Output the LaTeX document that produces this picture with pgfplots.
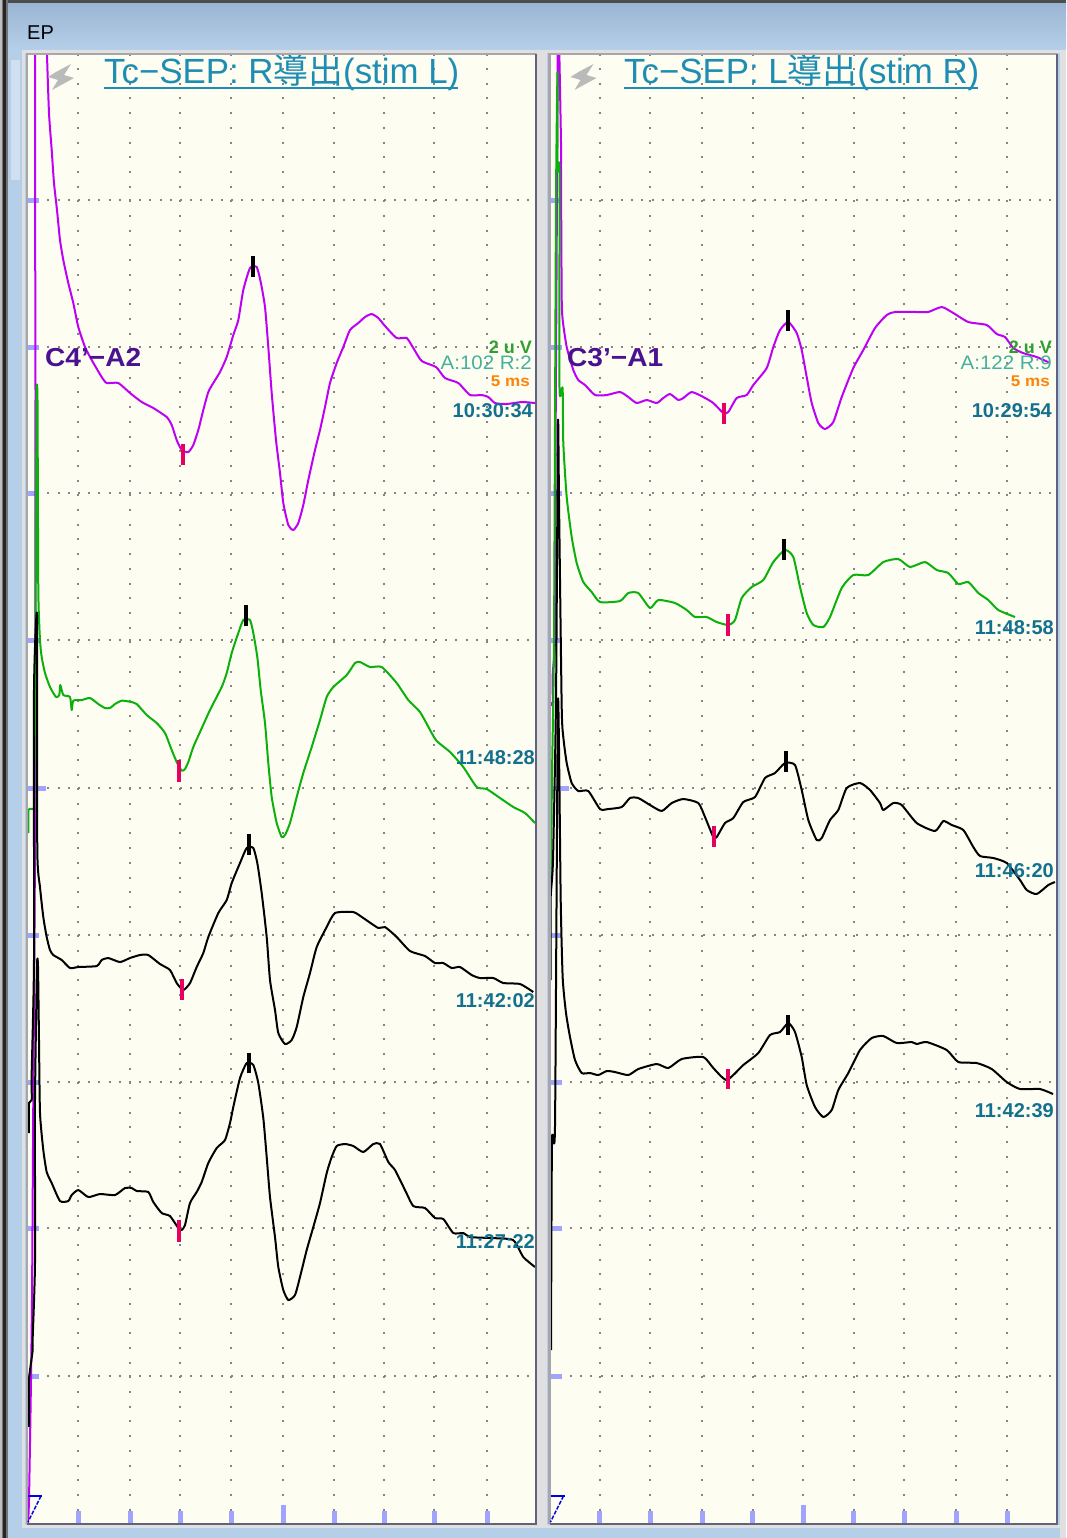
\documentclass[border=0pt]{standalone}
\usepackage{fontspec}
\setmainfont{Liberation Sans}
\newfontfamily\cjk{Noto Sans CJK JP}
\usepackage{pgfplots}
\pgfplotsset{compat=1.18}

\definecolor{paper}{HTML}{FDFDF1}
\definecolor{winblue}{HTML}{B6CFE9}
\definecolor{winblue2}{HTML}{9AB5D3}
\definecolor{frame}{HTML}{A6A6AC}
\definecolor{framedark}{HTML}{5F647C}
\definecolor{tickblue}{HTML}{A0A4FC}
\definecolor{griddot}{HTML}{858585}
\definecolor{trpurple}{HTML}{BE00F5}
\definecolor{trgreen}{HTML}{0CB00C}
\definecolor{markpink}{HTML}{E6005F}
\definecolor{titleblue}{HTML}{1E8DB4}
\definecolor{chanpurple}{HTML}{4A1290}
\definecolor{timeteal}{HTML}{14708F}
\definecolor{ampteal}{HTML}{45B09C}
\definecolor{gaingreen}{HTML}{2FA030}
\definecolor{msorange}{HTML}{FF8308}

% all traces are in reference pixels, 1 px = 1 pt
\pgfplotsset{
  panel/.style={
    at={(#1,55)}, anchor=north west,
    scale only axis, height=1468pt,
    ymin=55, ymax=1523, y dir=reverse,
    axis background/.style={fill=paper},
    axis line style={draw=none},
    xtick pos=lower, ytick pos=left,
    tick align=inside,
    major tick length=12pt,
    x tick style={line width=5pt, tickblue},
    y tick style={line width=5pt, tickblue},
    xticklabel=\empty, yticklabel=\empty,
    extra x tick labels={},
    extra y tick labels={},
    extra x tick style={major tick length=18pt},
    extra y tick style={major tick length=19pt},
    xmajorgrids, ymajorgrids,
    x grid style={griddot, line width=2pt, dash pattern=on 2pt off 12.7pt, dash phase=1.7pt},
    y grid style={griddot, line width=2pt, dash pattern=on 2pt off 8.2pt},
    ytick={200,347,493,640,935,1082,1228,1376},
    extra y ticks={788},
    unbounded coords=jump,
  },
  trace/.style={line width=2pt, line join=round, smooth, tension=0.35},
  pinkmark/.style={markpink, line width=4pt},
  blackmark/.style={black, line width=4pt},
}
\tikzset{
  stamp/.style={anchor=east, inner sep=0pt, text=timeteal, font=\fontsize{20}{20}\selectfont\bfseries},
  amp/.style={anchor=east, inner sep=0pt, xscale=1.05, text=ampteal, font=\fontsize{19.5}{19.5}\selectfont},
  gain/.style={anchor=east, inner sep=0pt, text=gaingreen, font=\fontsize{18}{18}\selectfont\bfseries},
  ms/.style={anchor=east, inner sep=0pt, xscale=1.1, text=msorange, font=\fontsize{15.5}{15.5}\selectfont\bfseries},
  chan/.style={anchor=west, inner sep=0pt, text=chanpurple, font=\fontsize{26}{26}\selectfont\bfseries},
  ttl/.style={anchor=west, inner sep=0pt, text=titleblue, font=\fontsize{35}{35}\selectfont},
}

\begin{document}
\begin{tikzpicture}[x=1pt,y=-1pt]
\useasboundingbox (0,0) rectangle (1066,1538);
% window chrome
\fill[winblue] (0,0) rectangle (1066,1538);
\shade[top color=winblue2, bottom color=winblue] (0,3) rectangle (1066,50);
\fill[black!70] (0,0) rectangle (1066,3);
\fill[black!55] (0,0) rectangle (8,1538);
\fill[black!25] (0,0) rectangle (2,1538);
\fill[black!85] (3,0) rectangle (6,1538);
\fill[white!35!winblue] (11,60) rectangle (20,180);
\fill[black!12] (1060,50) rectangle (1066,1538);
\fill[black!12] (22,50) rectangle (1060,53);
\fill[black!12] (22,1525) rectangle (1060,1528);
\fill[black!12] (22,50) rectangle (25,1528);
\fill[black!12] (537,50) rectangle (547,1528);
\node[anchor=west, inner sep=0pt, font=\fontsize{20}{20}\selectfont] at (27,33) {EP};

% left panel
\begin{axis}[panel=27, width=509pt, xmin=27, xmax=536,
  xtick={78,130,180,231,334,384,434,487}, extra x ticks={283}]
\addplot[trace, trpurple] coordinates {
 (28,1523)(29,1500)(30.7,1400)(32,1300)(33.3,1100)(34,1000)(35,830)(35.5,400)(35.5,40)(47,40)(47,55)
 (49,113)(51.7,150)(54,183)(57,210)(60,240)(63.3,260)(68.3,283)(73.3,303)(78.3,327)(85,347)(91.7,360)
 (101.7,377)(106.7,383)(118.3,383)(130,393)(141.7,402)(153.3,408)(166.7,417)(171.7,425)(176.7,440)
 (181.7,450)(188.3,452)(193.3,445)(198.3,430)(203.3,410)(208.3,392)(213.3,383)(220,372)(226.7,357)
 (233.3,335)(238.3,320)(243.3,290)(250,268)(256.7,267)(260.7,282)(265,307)(268.3,347)(271.7,393)
 (276,440)(280,473)(283.3,503)(288.3,525)(293.3,530)(298.3,523)(303.3,505)(308.3,480)(315,450)
 (320,430)(325,407)(330,383)(336.7,363)(343.3,347)(350,330)(358.3,323)(365,317)(371.7,314)(378.3,318)
 (385,326)(396.7,338)(406.7,338)(413.3,348)(421.7,361)(436,367)(445,378)(458.3,383)(470,395)(481.7,395)
 (488.3,397)(495,403)(506.7,404)(521.7,402)(535,403)};
\addplot[trace, trgreen] coordinates {
 (28.5,833)(28.5,810)(34.3,808)(34.3,787)(35.5,640)(36.5,400)(37.5,400)(38.3,590)(40,640)(41.7,657)
 (45,673)(50,687)(56,697)(59.3,695)(60.3,685)(63.3,695)(70,697)(71.7,710)(73.3,700.7)(81.7,700)(90,698)
 (98.3,704)(105,708)(110,708)(115,704)(121.7,700.7)(130,701.7)(136.7,704)(146.7,715)(156.7,723)(165,733)
 (171.7,750)(176.7,762)(181.7,770.7)(185,769)(188.3,762)(193.3,747)(200,732)(210,710)(221.7,687)
 (226.7,673)(231.7,653)(238.3,633)(243.3,620)(250,620)(253.3,633)(257.3,657)(260.7,690)(265,723)
 (268.3,763)(271.7,797)(276.7,823)(281.7,837)(285,835)(290,823)(296.7,797)(303.3,773)(311.7,747)
 (320,720)(326.7,697)(333.3,687)(346.7,675)(355,663)(360,662)(370,667)(381.7,667)(396.7,683)(408.3,700)
 (420,712)(431.7,733)(436.7,741)(450,752)(463.3,767)(476.7,787)(486.7,789)(500,798)(513.3,807)(525,813)(535,823)};
\addplot[trace, black] coordinates {
 (29,1133)(29,1103)(31.7,1100)(31.7,1073)(34,960)(34,690)(37,615)(37.3,850)(40,887)(43.3,917)(46.7,937)
 (50,950)(53.3,955)(61.7,960)(70,968)(78.3,967)(96.7,966)(101.7,960)(108.3,958)(120,962)(130,958)(140,955)
 (148.3,955)(160,964)(170,970)(176.7,983)(183.3,990)(190,983)(196.7,967)(203.3,953)(208.3,937)(218.3,913)
 (226.7,900)(231.7,883)(240,863)(246.7,848)(253.3,848)(257.3,863)(261.7,893)(266.7,937)(270,980)(275,1010)
 (278.3,1033)(285,1044)(291.7,1040)(296.7,1027)(303.3,997)(310,973)(316.7,947)(326.7,927)(335,913)
 (353.3,912)(363.3,918)(378.3,928)(385,927)(396.7,937)(410,951)(425,956)(435,963)(443.3,963)(451.7,968)
 (460,967)(471.7,975)(480,978)(493.3,978)(503.3,983)(520,984)(533.3,992)};
\addplot[trace, black] coordinates {
 (29,1427)(29,1380)(32.7,1350)(32.7,1338)(35,1263)(35,1100)(37,966)(38,966)(39,1040)(40,1113)(43.3,1150)
 (46.7,1172)(51.7,1183)(60,1201)(68.3,1201)(71.7,1195)(78.3,1190)(88.3,1197)(100,1194)(115,1195)(125,1188)
 (131.7,1188)(136.7,1191)(148.3,1192)(153.3,1202)(161.7,1213)(170,1216)(178.3,1228)(181.7,1230)(185,1225)
 (190,1203)(196.7,1192)(201.7,1182)(208.3,1163)(216.7,1148)(225,1140)(230,1123)(233.3,1107)(240,1078)
 (246.7,1063)(253.3,1065)(258.3,1083)(263.3,1118)(266.7,1157)(270,1197)(275,1237)(278.3,1267)(283.3,1290)
 (288.3,1300)(295,1295)(300,1277)(306.7,1250)(313.3,1227)(320,1203)(326.7,1173)(331.7,1157)(336.7,1146)
 (345,1144)(353.3,1146)(363.3,1152)(373.3,1144)(380,1144)(388.3,1162)(395,1170)(405,1190)(413.3,1206)
 (425,1208)(435,1218)(443.3,1219)(453.3,1233)(463.3,1233)(470,1237)(490,1238)(513,1240)(523.3,1257)(535,1267)};
% latency marks
\addplot[pinkmark] coordinates {(183.3,444)(183.3,465)(nan,nan)(179.3,760)(179.3,781.7)(nan,nan)
 (181.7,979)(181.7,1000)(nan,nan)(179.3,1220)(179.3,1241.7)};
\addplot[blackmark] coordinates {(253.3,255.7)(253.3,276.7)(nan,nan)(245.7,605)(245.7,626)(nan,nan)
 (249.3,834)(249.3,855)(nan,nan)(249.3,1053)(249.3,1073)};
\node[ttl, xscale=0.995] at (axis cs:104,72) {Tc−SEP: R{\cjk 導出}(stim L)};
\node[chan, xscale=1.08] at (axis cs:45,358) {C4’−A2};
\node[gain] at (axis cs:532,347) {2 u V};
\node[amp] at (axis cs:532,363) {A:102 R:2};
\node[ms] at (axis cs:530,381) {5 ms};
\node[stamp] at (axis cs:533,411) {10:30:34};
\node[stamp] at (axis cs:535,758) {11:48:28};
\node[stamp] at (axis cs:535,1001) {11:42:02};
\node[stamp] at (axis cs:535,1241) {11:27:22};
\end{axis}

% right panel
\begin{axis}[panel=549.5, width=507.5pt, xmin=549.5, xmax=1057,
  xtick={599.5,650,702,752.5,853.5,904,956,1007}, extra x ticks={803}]
\addplot[trace, trpurple] coordinates {
 (550,770)(550,705)(552.7,705)(552.7,675)(555,640)(555,547)(557.5,100)(557.5,40)(559,40)(561,143)(561,170)
 (561.7,298)(562.7,320)(566.7,347)(573.3,370)(578.3,380)(585,385)(595,395)(606.7,395)(620,392)(628.3,397)
 (636.7,403)(646.7,400)(656.7,403)(663.3,398)(670,394)(678.3,400)(683.3,398)(691.7,392)(703.3,397)(713.3,403)
 (723.3,413)(728.3,412)(736.7,398)(746.7,395)(753.3,385)(766.7,368)(773.3,347)(780,330)(788.3,322)(796.7,333)
 (801.7,350)(806.7,377)(811.7,403)(818.3,423)(825,429)(833.3,422)(841.7,397)(853.3,368)(863.3,350)(875,328)
 (886.7,315)(895,312)(918.3,312)(928.3,312)(941.7,307)(953.3,313)(968.3,322)(986.7,325)(996.7,334)(1005,337)
 (1013.3,348)(1023,353)(1036.7,357)(1050,363)};
\addplot[trace, trgreen] coordinates {
 (551,887)(551,880)(552,775)(554,640)(556,200)(557.5,72)(557.5,170)(559.5,170)(559.5,388)(562.6,388)
 (563.3,443)(566.7,497)(571.7,537)(576.7,563)(583.3,582)(591.7,592)(600,602)(620,601)(628.3,593)(638.3,593)
 (650,608)(658.3,600)(675,603)(686.7,610)(695,617)(706.7,617)(716.7,622)(728.3,625)(735,620)(741.7,598)
 (751.7,587)(763.3,580)(773.3,562)(785,550)(793.3,557)(800,587)(806.7,613)(813.3,625)(823.3,627)(830,617)
 (841.7,588)(853.3,575)(868.3,575)(883.3,562)(898.3,559)(910,567)(925,562)(936.7,570)(948.3,573)(958.3,584)
 (968.3,582)(978.3,593)(988.3,600)(998.3,610)(1015,617)};
\addplot[trace, black] coordinates {
 (550.6,980)(550.6,900)(553,860)(556,700)(558,423)(559,500)(561.7,707)(563.3,737)(566.7,763)(571.7,783)
 (578.3,791)(588.3,791)(600,809)(608.3,809)(621.7,807)(630,798)(638.3,798)(650,805)(661.7,811)(671.7,803)
 (683.3,799)(698.3,803)(705,817)(713.3,837)(716.7,837)(725,823)(733.3,818)(743.3,802)(755,797)(765,778)
 (775,773)(785,763)(795,765)(801.7,790)(808.3,820)(816.7,840)(821.7,838)(830,820)(838.3,810)(846.7,788)
 (860,783)(870,790)(880,803)(883.3,810)(893.3,803)(901.7,805)(916.7,823)(935,831)(943.3,821)(951.7,825)
 (963.3,830)(973.3,847)(980,856)(993.3,858)(1006.7,863)(1020,880)(1026.7,890)(1036.7,894)(1048.3,885)(1055,882)};
\addplot[trace, black] coordinates {
 (551,1350)(552,1140)(555,1126)(558,700)(560.7,900)(562.7,978)(566,1013)(570,1037)(575,1060)(581.7,1073)
 (590,1073)(598.3,1075)(606.7,1071)(615,1072)(628.3,1075)(638.3,1069)(656.7,1064)(668.3,1068)(681.7,1059)
 (703.3,1057)(713.3,1068)(726.7,1080)(743.3,1065)(758.3,1053)(770,1035)(780,1032)(788.3,1023)(795,1032)
 (801.7,1057)(806.7,1085)(815,1107)(823.3,1117)(831.7,1110)(838.3,1090)(848.3,1073)(860,1050)(871.7,1038)
 (883.3,1036)(896.7,1043)(911.7,1042)(916.7,1044)(926.7,1042)(946.7,1050)(958.3,1062)(976.7,1063)(991.7,1069)
 (1006.7,1082)(1020,1089)(1040,1089)(1053,1094)};
\addplot[pinkmark] coordinates {(724.3,403)(724.3,424)(nan,nan)(728.3,614)(728.3,636)(nan,nan)
 (714.3,826)(714.3,847)(nan,nan)(728.3,1069)(728.3,1089)};
\addplot[blackmark] coordinates {(788.3,310)(788.3,331)(nan,nan)(784.3,539)(784.3,560)(nan,nan)
 (786,751)(786,772)(nan,nan)(788.3,1015)(788.3,1035)};
\node[ttl, xscale=0.995] at (axis cs:624,72) {Tc−SEP: L{\cjk 導出}(stim R)};
\node[chan, xscale=1.08] at (axis cs:567,358) {C3’−A1};
\node[gain] at (axis cs:1052,347) {2 u V};
\node[amp] at (axis cs:1052,363) {A:122 R:9};
\node[ms] at (axis cs:1050,381) {5 ms};
\node[stamp] at (axis cs:1052,411) {10:29:54};
\node[stamp] at (axis cs:1054,628) {11:48:58};
\node[stamp] at (axis cs:1054,871) {11:46:20};
\node[stamp] at (axis cs:1054,1111) {11:42:39};
\end{axis}

% panel frames, title rules, flash icons, trigger triangles
\foreach \l/\r/\ua/\ub in {27/536/104/458, 549.5/1057/624/978} {
  \draw[frame, line width=2.5pt] (\l,1524) -- (\l,54) -- (\r,54);
  \draw[framedark, line width=2.5pt] (\l,1524) -- (\r,1524) -- (\r,54);
  \draw[titleblue, line width=1.5pt] (\ua,88) -- (\ub,88);
  \fill[black!27] ({\l+44},64) -- ({\l+29},72) -- ({\l+21},77) -- ({\l+31},80) -- ({\l+25},90)
     -- ({\l+47},78) -- ({\l+37},75) -- cycle;
  \draw[blue!90!black, line width=1.5pt] ({\l+1},1496) -- ({\l+15},1496);
  \draw[blue!90!black, line width=1.5pt, dash pattern=on 4pt off 1.5pt] ({\l+14},1496) -- ({\l+1},1522);
}
\end{tikzpicture}
\end{document}
